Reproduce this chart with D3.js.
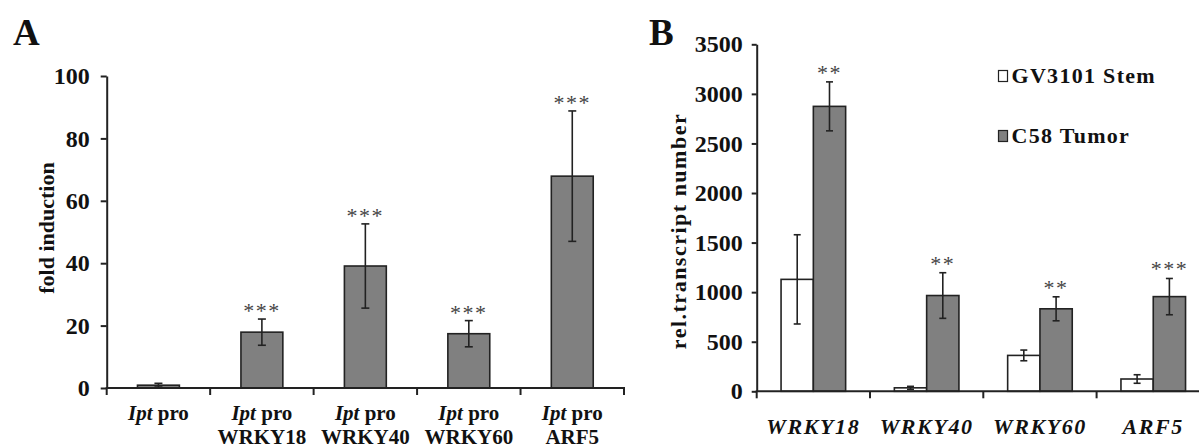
<!DOCTYPE html>
<html>
<head>
<meta charset="utf-8">
<script src="https://cdn.jsdelivr.net/npm/d3@7"></script>
<style>
  html, body { margin: 0; padding: 0; background: #fff; }
  svg { display: block; }
  svg text { font-family: "Times New Roman", Times, "Liberation Serif", Tinos, serif; }
</style>
</head>
<body>
<script>
// Panel A: promoter activity (fold induction)
const catsA = ["Ipt pro", "Ipt pro WRKY18", "Ipt pro WRKY40", "Ipt pro WRKY60", "Ipt pro ARF5"];
const lineTwoA = ["", "WRKY18", "WRKY40", "WRKY60", "ARF5"];
const foldA = [0.9, 17.9, 39.1, 17.4, 67.9];
const errA = [0.6, 4.2, 13.5, 4.2, 20.9];
const sigA = ["", "***", "***", "***", "***"];
const ticksA = [0, 20, 40, 60, 80, 100];

// Panel B: transcript numbers
const genesB = ["WRKY18", "WRKY40", "WRKY60", "ARF5"];
const seriesB = ["GV3101 Stem", "C58 Tumor"];
const stemB = [1129, 35, 362, 124];
const stemErrB = [450, 15, 54, 43];
const tumorB = [2874, 966, 832, 955];
const tumorErrB = [247, 230, 121, 183];
const sigB = ["**", "**", "**", "***"];
const ticksB = [0, 500, 1000, 1500, 2000, 2500, 3000, 3500];

const width = 1199, height = 448;
const ink = "#222";
const barGray = "#808080";

const svg = d3.select("body").append("svg")
  .attr("width", width)
  .attr("height", height)
  .attr("viewBox", [0, 0, width, height]);

svg.append("rect").attr("width", width).attr("height", height).attr("fill", "#fff");

function styleAxis(g, size) {
  g.attr("font-family", null);
  g.select(".domain").attr("stroke", ink).attr("stroke-width", 2);
  g.selectAll(".tick line").attr("stroke", ink).attr("stroke-width", 2);
  g.selectAll(".tick text")
    .attr("fill", "#111")
    .attr("font-size", size)
    .attr("font-weight", "bold");
}

function errorBar(g, cx, yScale, v, e, cap) {
  const top = yScale(v + e), bot = yScale(Math.max(0, v - e));
  g.append("line").attr("x1", cx).attr("x2", cx).attr("y1", top).attr("y2", bot);
  g.append("line").attr("x1", cx - cap / 2).attr("x2", cx + cap / 2).attr("y1", top).attr("y2", top);
  g.append("line").attr("x1", cx - cap / 2).attr("x2", cx + cap / 2).attr("y1", bot).attr("y2", bot);
}

// ---------- Panel A ----------
const xA = d3.scaleBand().domain(catsA).range([106.7, 624]).padding(0);
const yA = d3.scaleLinear().domain([0, 100]).range([388, 76]);
const barWA = xA.step() * 0.405;

svg.append("text").attr("x", 13).attr("y", 45)
  .attr("font-size", 37).attr("font-weight", "bold").attr("fill", "#111").text("A");

const gyA = svg.append("g")
  .attr("transform", `translate(${xA.range()[0]},0)`)
  .call(d3.axisLeft(yA).tickValues(ticksA).tickFormat(d3.format("d"))
    .tickSize(6).tickSizeOuter(0).tickPadding(11));
styleAxis(gyA, 24);

const barsA = svg.append("g");
barsA.selectAll("rect")
  .data(catsA)
  .join("rect")
  .attr("x", (d) => xA(d) + (xA.bandwidth() - barWA) / 2)
  .attr("y", (d, i) => yA(foldA[i]))
  .attr("width", barWA)
  .attr("height", (d, i) => yA(0) - yA(foldA[i]))
  .attr("fill", barGray)
  .attr("stroke", ink)
  .attr("stroke-width", 1.6);

const errGA = svg.append("g").attr("stroke", ink).attr("stroke-width", 1.6);
catsA.forEach((d, i) => {
  const cx = xA(d) + xA.bandwidth() / 2;
  errorBar(errGA, cx, yA, foldA[i], errA[i], 8);
  if (sigA[i]) {
    svg.append("text")
      .attr("x", cx).attr("y", yA(foldA[i] + errA[i]) - 1)
      .attr("text-anchor", "middle")
      .attr("font-size", 22).attr("fill", "#444")
      .attr("letter-spacing", 1.5)
      .text(sigA[i]);
  }
});

// x axis A with ticks at category boundaries
const gxA = svg.append("g").attr("stroke", ink).attr("stroke-width", 2);
gxA.append("line").attr("x1", xA.range()[0] - 1).attr("x2", xA.range()[1] + 1)
  .attr("y1", yA(0)).attr("y2", yA(0));
catsA.map((d) => xA(d)).concat([xA.range()[1]]).forEach((x) => {
  gxA.append("line").attr("x1", x).attr("x2", x).attr("y1", yA(0)).attr("y2", yA(0) + 7);
});

const labA = svg.append("g").attr("font-weight", "bold").attr("font-size", 21).attr("fill", "#111");
catsA.forEach((d, i) => {
  const cx = xA(d) + xA.bandwidth() / 2;
  const t = labA.append("text").attr("x", cx).attr("y", 420).attr("text-anchor", "middle");
  t.append("tspan").attr("font-style", "italic").text("Ipt");
  t.append("tspan").text(" pro");
  if (lineTwoA[i]) {
    labA.append("text").attr("x", cx).attr("y", 444).attr("text-anchor", "middle").text(lineTwoA[i]);
  }
});

svg.append("text")
  .attr("transform", "translate(54,228) rotate(-90)")
  .attr("text-anchor", "middle")
  .attr("font-size", 22).attr("font-weight", "bold").attr("fill", "#111")
  .text("fold induction");

// ---------- Panel B ----------
const xB = d3.scaleBand().domain(genesB).range([756.7, 756.7 + 4 * 113.3]).padding(0);
const xSub = d3.scaleBand().domain(seriesB).range([0, xB.step() * 0.57]).padding(0);
const yB = d3.scaleLinear().domain([0, 3500]).range([391.3, 44.3]);
const offB = (xB.step() - xSub.range()[1]) / 2;

svg.append("text").attr("x", 649).attr("y", 45)
  .attr("font-size", 37).attr("font-weight", "bold").attr("fill", "#111").text("B");

const gyB = svg.append("g")
  .attr("transform", `translate(${xB.range()[0]},0)`)
  .call(d3.axisLeft(yB).tickValues(ticksB).tickFormat(d3.format("d"))
    .tickSize(5).tickSizeOuter(0).tickPadding(9));
styleAxis(gyB, 24);

const valsB = [stemB, tumorB];
const errsB = [stemErrB, tumorErrB];
const fillsB = ["#fff", barGray];

const barsB = svg.append("g");
seriesB.forEach((s, k) => {
  barsB.append("g").selectAll("rect")
    .data(genesB)
    .join("rect")
    .attr("x", (d) => xB(d) + offB + xSub(s))
    .attr("y", (d, i) => yB(valsB[k][i]))
    .attr("width", xSub.bandwidth())
    .attr("height", (d, i) => yB(0) - yB(valsB[k][i]))
    .attr("fill", fillsB[k])
    .attr("stroke", ink)
    .attr("stroke-width", 1.6);
});

const errGB = svg.append("g").attr("stroke", ink).attr("stroke-width", 1.6);
genesB.forEach((d, i) => {
  seriesB.forEach((s, k) => {
    const cx = xB(d) + offB + xSub(s) + xSub.bandwidth() / 2;
    errorBar(errGB, cx, yB, valsB[k][i], errsB[k][i], 7);
  });
  const cx = xB(d) + offB + xSub(seriesB[1]) + xSub.bandwidth() / 2;
  svg.append("text")
    .attr("x", cx).attr("y", yB(tumorB[i] + tumorErrB[i]) - 2)
    .attr("text-anchor", "middle")
    .attr("font-size", 22).attr("fill", "#444")
    .attr("letter-spacing", 1.5)
    .text(sigB[i]);
});

const gxB = svg.append("g").attr("stroke", ink).attr("stroke-width", 2);
gxB.append("line").attr("x1", xB.range()[0] - 1).attr("x2", xB.range()[1])
  .attr("y1", yB(0)).attr("y2", yB(0));
genesB.map((d) => xB(d)).concat([xB.range()[1]]).forEach((x) => {
  gxB.append("line").attr("x1", x).attr("x2", x).attr("y1", yB(0)).attr("y2", yB(0) + 7);
});

svg.append("g").selectAll("text")
  .data(genesB)
  .join("text")
  .attr("x", (d) => xB(d) + xB.bandwidth() / 2)
  .attr("y", 434)
  .attr("text-anchor", "middle")
  .attr("font-size", 22).attr("font-weight", "bold").attr("font-style", "italic")
  .attr("letter-spacing", 1.6).attr("fill", "#111")
  .text((d) => d);

svg.append("text")
  .attr("transform", "translate(686,231) rotate(-90)")
  .attr("text-anchor", "middle")
  .attr("font-size", 22).attr("font-weight", "bold").attr("fill", "#111")
  .attr("letter-spacing", 1.5)
  .text("rel.transcript number");

// legend
const legend = svg.append("g").attr("transform", "translate(998.5,70.5)");
seriesB.forEach((s, k) => {
  const g = legend.append("g").attr("transform", `translate(0,${k * 60})`);
  g.append("rect").attr("width", 9).attr("height", 11)
    .attr("fill", fillsB[k]).attr("stroke", ink).attr("stroke-width", 1.2);
  g.append("text").attr("x", 13).attr("y", 12)
    .attr("font-size", 22).attr("font-weight", "bold").attr("fill", "#111")
    .attr("letter-spacing", 1.3)
    .text(s);
});
</script>
</body>
</html>
